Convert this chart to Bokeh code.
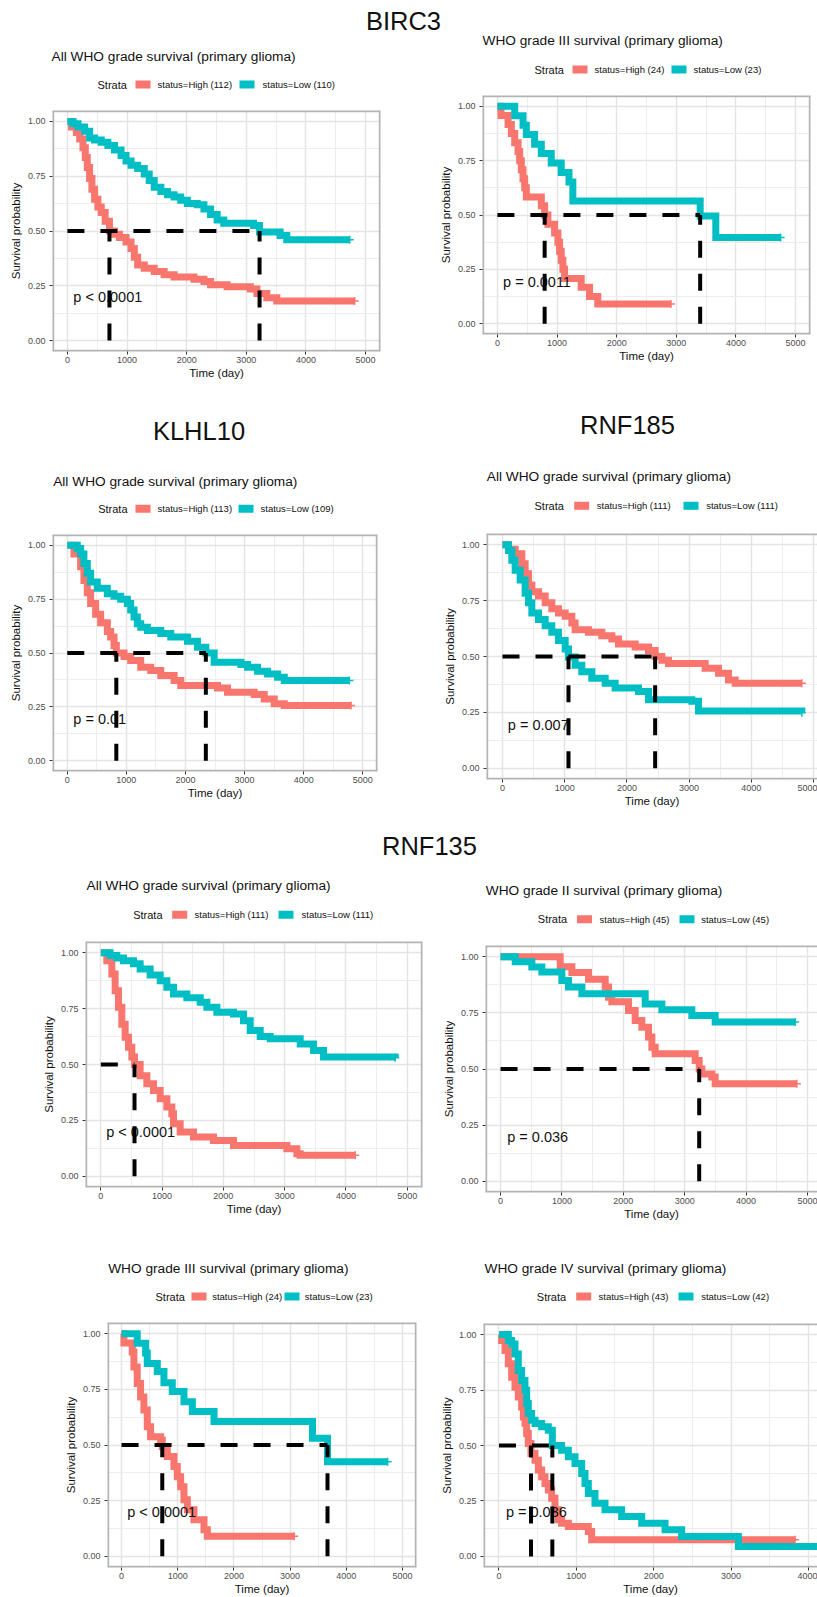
from bokeh.plotting import figure
from bokeh.models import Range1d, FixedTicker, NumeralTickFormatter
from bokeh.layouts import column, row
from bokeh.embed import file_html
from bokeh.resources import INLINE
from bokeh.core.properties import value

FONT = "Liberation Sans"
RED = "#F8766D"
TEAL = "#00BFC4"

# ---------------- data ----------------
genes = ["BIRC3", "KLHL10", "RNF185", "RNF135"]
panel_titles = [
    "All WHO grade survival (primary glioma)",
    "WHO grade III survival (primary glioma)",
    "All WHO grade survival (primary glioma)",
    "All WHO grade survival (primary glioma)",
    "All WHO grade survival (primary glioma)",
    "WHO grade II survival (primary glioma)",
    "WHO grade III survival (primary glioma)",
    "WHO grade IV survival (primary glioma)",
]
n_high = [112, 24, 113, 111, 111, 45, 24, 43]
n_low = [110, 23, 109, 111, 111, 45, 23, 42]
p_labels = ["p < 0.0001", "p = 0.0011", "p = 0.01", "p = 0.007",
            "p < 0.0001", "p = 0.036", "p < 0.0001", "p = 0.036"]
medians = [[705, 3222], [792, 3400], [830, 2345], [1061, 2454],
           [550], [3236], [725, 3666], [414, 690]]

# BIRC3 - all grades
birc3_all_high_t = [0, 67, 150, 206, 261, 300, 333, 372, 411, 456, 511, 567, 633, 705, 789, 872, 983, 1067,
                    1122, 1178, 1289, 1456, 1622, 1789, 2122, 2289, 2400, 2678, 3067, 3178, 3344, 3511, 4817]
birc3_all_high_s = [1.0, 0.975, 0.95, 0.92, 0.88, 0.835, 0.79, 0.74, 0.69, 0.645, 0.61, 0.585, 0.545, 0.50,
                    0.485, 0.47, 0.45, 0.42, 0.38, 0.345, 0.33, 0.315, 0.30, 0.29, 0.28, 0.27, 0.255, 0.245,
                    0.235, 0.215, 0.195, 0.18, 0.18]
birc3_all_low_t = [0, 94, 178, 289, 372, 456, 567, 678, 789, 900, 983, 1067, 1178, 1289, 1372, 1456, 1567,
                   1678, 1789, 1900, 2011, 2178, 2289, 2400, 2511, 2622, 3122, 3222, 3567, 3678, 4733]
birc3_all_low_s = [1.0, 0.99, 0.975, 0.955, 0.925, 0.915, 0.905, 0.89, 0.87, 0.845, 0.82, 0.80, 0.785, 0.76,
                   0.73, 0.70, 0.68, 0.665, 0.655, 0.64, 0.625, 0.62, 0.60, 0.575, 0.55, 0.535, 0.525, 0.495,
                   0.48, 0.46, 0.46]
# BIRC3 - grade III
birc3_g3_high_t = [0, 60, 178, 234, 290, 346, 373, 401, 429, 457, 485, 736, 792, 847, 959, 1014, 1042, 1070,
                   1098, 1126, 1405, 1544, 1683, 2910]
birc3_g3_high_s = [1.0, 0.958, 0.917, 0.875, 0.833, 0.792, 0.75, 0.708, 0.667, 0.625, 0.583, 0.542, 0.5,
                   0.458, 0.417, 0.375, 0.333, 0.292, 0.25, 0.208, 0.167, 0.125, 0.09, 0.09]
birc3_g3_low_t = [0, 290, 430, 485, 624, 736, 903, 1070, 1200, 1265, 3400, 3662, 4749]
birc3_g3_low_s = [1.0, 0.957, 0.913, 0.87, 0.826, 0.783, 0.739, 0.696, 0.652, 0.565, 0.495, 0.396, 0.396]
# KLHL10 - all grades
klhl10_all_high_t = [0, 113, 226, 282, 339, 395, 480, 565, 678, 734, 791, 830, 960, 1073, 1243, 1412, 1582,
                     1808, 1921, 2542, 2712, 3164, 3333, 3503, 3672, 4802]
klhl10_all_high_s = [1.0, 0.96, 0.90, 0.837, 0.78, 0.73, 0.68, 0.64, 0.60, 0.574, 0.535, 0.50, 0.484, 0.465,
                     0.434, 0.419, 0.395, 0.372, 0.349, 0.338, 0.318, 0.307, 0.287, 0.264, 0.256, 0.256]
klhl10_all_low_t = [0, 169, 226, 282, 339, 395, 508, 678, 791, 904, 1017, 1073, 1130, 1186, 1243, 1356, 1582,
                    1751, 2034, 2203, 2345, 2486, 2938, 3051, 3220, 3390, 3559, 3672, 4774]
klhl10_all_low_s = [1.0, 0.985, 0.96, 0.915, 0.87, 0.83, 0.80, 0.775, 0.763, 0.75, 0.73, 0.70, 0.667, 0.636,
                    0.62, 0.605, 0.59, 0.574, 0.555, 0.527, 0.50, 0.457, 0.447, 0.434, 0.415, 0.403, 0.388,
                    0.372, 0.372]
# RNF185 - all grades
rnf185_all_high_t = [0, 96, 204, 311, 364, 418, 472, 579, 686, 793, 900, 1008, 1115, 1168, 1383, 1597, 1758,
                     1865, 2133, 2347, 2454, 2562, 2669, 3258, 3473, 3633, 3741, 4812]
rnf185_all_high_s = [1.0, 0.98, 0.96, 0.915, 0.87, 0.82, 0.79, 0.77, 0.74, 0.713, 0.695, 0.68, 0.65, 0.62,
                     0.608, 0.593, 0.578, 0.556, 0.542, 0.527, 0.50, 0.483, 0.469, 0.447, 0.425, 0.395, 0.38, 0.38]
rnf185_all_low_t = [0, 96, 150, 204, 284, 364, 418, 472, 579, 686, 793, 900, 1008, 1061, 1168, 1275, 1436,
                    1651, 1811, 2186, 2347, 3044, 3151, 4812]
rnf185_all_low_s = [1.0, 0.974, 0.93, 0.886, 0.842, 0.783, 0.74, 0.695, 0.666, 0.637, 0.608, 0.571, 0.534,
                    0.498, 0.461, 0.432, 0.403, 0.38, 0.359, 0.344, 0.307, 0.30, 0.256, 0.249]
# RNF135 - all grades
rnf135_all_high_t = [0, 98, 180, 234, 288, 343, 397, 452, 506, 550, 642, 751, 860, 969, 1078, 1159, 1186,
                     1295, 1513, 1839, 2166, 3037, 3200, 3254, 4152]
rnf135_all_high_s = [1.0, 0.964, 0.905, 0.83, 0.756, 0.68, 0.622, 0.577, 0.533, 0.50, 0.45, 0.414, 0.384,
                     0.347, 0.31, 0.28, 0.235, 0.198, 0.176, 0.16, 0.138, 0.1235, 0.101, 0.094, 0.094]
rnf135_all_low_t = [0, 152, 261, 370, 533, 642, 805, 969, 1078, 1186, 1404, 1622, 1731, 1894, 2166, 2329,
                    2438, 2601, 2765, 3254, 3472, 3635, 4805]
rnf135_all_low_s = [1.0, 0.987, 0.976, 0.964, 0.95, 0.927, 0.90, 0.875, 0.845, 0.815, 0.798, 0.778, 0.756,
                    0.734, 0.726, 0.696, 0.652, 0.625, 0.615, 0.592, 0.5625, 0.533, 0.53]
# RNF135 - grade II
rnf135_g2_high_t = [0, 972, 1162, 1433, 1705, 1759, 1813, 2085, 2193, 2302, 2410, 2465, 2519, 3170, 3236,
                    3279, 3442, 3496, 4826]
rnf135_g2_high_s = [1.0, 0.955, 0.93, 0.90, 0.865, 0.82, 0.80, 0.76, 0.716, 0.686, 0.642, 0.597, 0.568,
                    0.538, 0.50, 0.478, 0.464, 0.434, 0.434]
rnf135_g2_low_t = [0, 239, 510, 673, 999, 1107, 1325, 2356, 2628, 3116, 3496, 4799]
rnf135_g2_low_s = [1.0, 0.978, 0.954, 0.932, 0.894, 0.865, 0.835, 0.79, 0.764, 0.738, 0.709, 0.709]
# RNF135 - grade III
rnf135_g3_high_t = [0, 42, 190, 220, 279, 339, 398, 458, 517, 695, 725, 814, 933, 992, 1052, 1111, 1171,
                    1289, 1468, 1527, 3072]
rnf135_g3_high_s = [1.0, 0.958, 0.917, 0.85, 0.776, 0.716, 0.657, 0.582, 0.537, 0.522, 0.493, 0.448, 0.403,
                    0.358, 0.313, 0.254, 0.209, 0.164, 0.119, 0.09, 0.09]
rnf135_g3_low_t = [0, 279, 428, 458, 636, 755, 903, 1111, 1260, 1646, 3399, 3666, 4736]
rnf135_g3_low_s = [1.0, 0.957, 0.913, 0.866, 0.83, 0.78, 0.74, 0.694, 0.65, 0.605, 0.53, 0.425, 0.425]
# RNF135 - grade IV
rnf135_g4_high_t = [0, 34, 78, 121, 164, 207, 250, 293, 315, 336, 358, 379, 414, 466, 509, 552, 595, 638,
                    681, 724, 767, 810, 897, 1155, 1198, 3828]
rnf135_g4_high_s = [1.0, 0.973, 0.928, 0.868, 0.808, 0.763, 0.719, 0.674, 0.629, 0.60, 0.554, 0.509, 0.464,
                    0.434, 0.389, 0.359, 0.329, 0.299, 0.262, 0.21, 0.165, 0.15, 0.135, 0.112, 0.075, 0.075]
rnf135_g4_low_t = [0, 121, 164, 207, 250, 293, 336, 358, 379, 422, 466, 552, 638, 690, 810, 897, 983, 1069,
                   1112, 1155, 1241, 1371, 1586, 1845, 2147, 2362, 3095, 4200]
rnf135_g4_low_s = [1.0, 0.973, 0.958, 0.913, 0.838, 0.793, 0.749, 0.689, 0.644, 0.614, 0.599, 0.584, 0.569,
                   0.50, 0.479, 0.449, 0.419, 0.374, 0.329, 0.284, 0.24, 0.21, 0.18, 0.15, 0.12, 0.09, 0.045,
                   0.045]

curves = [
    (birc3_all_high_t, birc3_all_high_s, birc3_all_low_t, birc3_all_low_s),
    (birc3_g3_high_t, birc3_g3_high_s, birc3_g3_low_t, birc3_g3_low_s),
    (klhl10_all_high_t, klhl10_all_high_s, klhl10_all_low_t, klhl10_all_low_s),
    (rnf185_all_high_t, rnf185_all_high_s, rnf185_all_low_t, rnf185_all_low_s),
    (rnf135_all_high_t, rnf135_all_high_s, rnf135_all_low_t, rnf135_all_low_s),
    (rnf135_g2_high_t, rnf135_g2_high_s, rnf135_g2_low_t, rnf135_g2_low_s),
    (rnf135_g3_high_t, rnf135_g3_high_s, rnf135_g3_low_t, rnf135_g3_low_s),
    (rnf135_g4_high_t, rnf135_g4_high_s, rnf135_g4_low_t, rnf135_g4_low_s),
]

# ---------------- layout (pixels, page starts at 0,0) ----------------
PANEL_SPECS = [
    dict(W=408, H=298, L=52, R=28, T=18, B=39, xr=(-250, 5250), pxy=(100, 0.20), full=True),
    dict(W=409, H=298, L=74, R=7, T=3, B=56, xr=(-250, 5250), pxy=(95, 0.19), full=True),
    dict(W=408, H=290, L=52, R=31, T=4, B=49, xr=(-250, 5250), pxy=(102, 0.194), full=True),
    dict(W=409, H=290, L=78, R=0, T=3, B=41, xr=(-257, 5064), pxy=(86, 0.195), full=False),
    dict(W=432, H=287, L=85, R=10, T=3, B=38, xr=(-250, 5250), pxy=(87, 0.198), full=True),
    dict(W=385, H=287, L=53, R=0, T=7, B=33, xr=(-245, 5163), pxy=(109, 0.196), full=False),
    dict(W=430, H=279, L=107, R=14, T=4, B=29, xr=(-250, 5250), pxy=(101, 0.197), full=True),
    dict(W=387, H=279, L=53, R=0, T=5, B=29, xr=(-200, 4118), pxy=(90, 0.20), full=False),
]

# header bands: height, gene titles (index, x, y), panels (index, title_x, title_y, legend_y,
# strata_x, red_key_x, label1_x, teal_key_x, label2_x)
HEADERS = [
    dict(h=92, genes=[(0, 403, 20.2)],
         panels=[(0, 51, 55.9, 84, 97, 135, 157, 239, 262),
                 (1, 482, 40.2, 69, 534, 572, 594, 671, 693)]),
    dict(h=140, genes=[(1, 198.5, 40.9), (2, 627, 34.2)],
         panels=[(2, 52.7, 90.5, 118.3, 97.7, 135, 157, 238, 260),
                 (3, 486.3, 86.2, 115.3, 534, 573.7, 596.3, 683, 705.7)]),
    dict(h=118, genes=[(3, 429, 25.9)],
         panels=[(4, 86, 65.2, 94.3, 132.7, 171.7, 194, 278, 301),
                 (5, 485.3, 69.9, 98.7, 537.3, 576.5, 599, 679, 700.7)]),
    dict(h=93, genes=[],
         panels=[(6, 107.7, 42.5, 71, 155, 191, 211.7, 284, 304.3),
                 (7, 484, 42.5, 71, 536.3, 575.7, 598, 678, 700.7)]),
]


def make_header(spec):
    h = spec["h"]
    p = figure(width=817, height=h, x_range=Range1d(0, 817), y_range=Range1d(h, 0),
               output_backend="svg", toolbar_location=None, title=None,
               x_axis_location=None, y_axis_location=None, frame_align=False,
               min_border_left=0, min_border_right=0, min_border_top=0, min_border_bottom=0)
    p.outline_line_color = None
    p.grid.visible = False
    for gi, gx, gy in spec["genes"]:
        p.text(x=[gx], y=[gy], text=[genes[gi]], text_font=value(FONT), text_font_size="25.5px",
               text_align="center", text_baseline="middle", text_color="#111111")
    for (pi, tx, ty, ly, sx, rx, l1x, tlx, l2x) in spec["panels"]:
        p.text(x=[tx], y=[ty], text=[panel_titles[pi]], text_font=value(FONT), text_font_size="13.7px",
               text_align="left", text_baseline="middle", text_color="#111111")
        p.text(x=[sx], y=[ly], text=["Strata"], text_font=value(FONT), text_font_size="11px",
               text_align="left", text_baseline="middle", text_color="#111111")
        p.quad(left=[rx, tlx], right=[rx + 15, tlx + 15], top=[ly - 4, ly - 4], bottom=[ly + 4, ly + 4],
               fill_color=[RED, TEAL], line_color=None)
        p.text(x=[l1x, l2x], y=[ly, ly],
               text=["status=High (%d)" % n_high[pi], "status=Low (%d)" % n_low[pi]],
               text_font=value(FONT), text_font_size="9.5px", text_align="left",
               text_baseline="middle", text_color="#111111")
    return p


def make_panel(i):
    s = PANEL_SPECS[i]
    x0, x1 = s["xr"]
    y0, y1 = -0.05, 1.05
    p = figure(width=s["W"], height=s["H"], x_range=Range1d(x0, x1), y_range=Range1d(y0, y1),
               output_backend="svg", toolbar_location=None, title=None, frame_align=False,
               min_border_left=s["L"], min_border_right=s["R"],
               min_border_top=s["T"], min_border_bottom=s["B"],
               x_axis_label="Time (day)", y_axis_label="Survival probability")
    p.outline_line_color = None
    xt = [t for t in [0, 1000, 2000, 3000, 4000, 5000] if x0 < t < x1]
    xm = [t for t in [500, 1500, 2500, 3500, 4500] if x0 < t < x1]
    p.xaxis.ticker = FixedTicker(ticks=xt, minor_ticks=xm)
    p.yaxis.ticker = FixedTicker(ticks=[0, 0.25, 0.5, 0.75, 1.0], minor_ticks=[0.125, 0.375, 0.625, 0.875])
    p.yaxis.formatter = NumeralTickFormatter(format="0.00")
    p.xaxis.formatter = NumeralTickFormatter(format="0")
    for ax in p.axis:
        ax.axis_line_color = None
        ax.major_tick_line_color = "#333333"
        ax.major_tick_line_width = 1
        ax.major_tick_out = 3
        ax.major_tick_in = 0
        ax.minor_tick_line_color = None
        ax.major_label_text_font = FONT
        ax.major_label_text_font_size = "9px"
        ax.major_label_text_color = "#4d4d4d"
        ax.axis_label_text_font = FONT
        ax.axis_label_text_font_size = "11.5px"
        ax.axis_label_text_font_style = "normal"
        ax.axis_label_text_color = "#111111"
    p.xaxis.major_label_standoff = 1
    p.xaxis.axis_label_standoff = 1
    p.yaxis.major_label_standoff = 3
    p.yaxis.axis_label_standoff = 3
    p.grid.grid_line_color = "#e4e4e4"
    p.grid.grid_line_width = 1.5
    p.grid.minor_grid_line_color = "#ededed"
    p.grid.minor_grid_line_width = 1.0

    ht, hs, lt, ls = curves[i]
    p.step(ht, hs, mode="after", line_color=RED, line_width=7, line_join="miter")
    p.step(lt, ls, mode="after", line_color=TEAL, line_width=7, line_join="miter")
    p.scatter([ht[-1]], [hs[-1]], marker="cross", size=8, line_color=RED, line_width=1.5)
    p.scatter([lt[-1]], [ls[-1]], marker="cross", size=8, line_color=TEAL, line_width=1.5)

    px, py = s["pxy"]
    p.text(x=[px], y=[py], text=[p_labels[i]], text_font=value(FONT), text_font_size="14.5px",
           text_align="left", text_baseline="middle", text_color="#111111")

    meds = medians[i]
    sx0 = [0] + meds
    sx1 = [max(meds)] + meds
    sy0 = [0.5] + [0] * len(meds)
    sy1 = [0.5] * (len(meds) + 1)
    p.segment(x0=sx0, y0=sy0, x1=sx1, y1=sy1, line_color="black", line_width=4,
              line_dash="17 16", line_cap="butt")

    bxs = [[x0, x0], [x0, x1], [x0, x1]]
    bys = [[y0, y1], [y1, y1], [y0, y0]]
    if s["full"]:
        bxs.append([x1, x1])
        bys.append([y0, y1])
    p.multi_line(bxs, bys, line_color="#b3b3b3", line_width=3.4)
    return p


headers = [make_header(h) for h in HEADERS]
panels = [make_panel(i) for i in range(8)]

layout = column(
    headers[0], row(panels[0], panels[1]),
    headers[1], row(panels[2], panels[3]),
    headers[2], row(panels[4], panels[5]),
    headers[3], row(panels[6], panels[7]),
)

open("out.html", "w").write(file_html(layout, INLINE))
